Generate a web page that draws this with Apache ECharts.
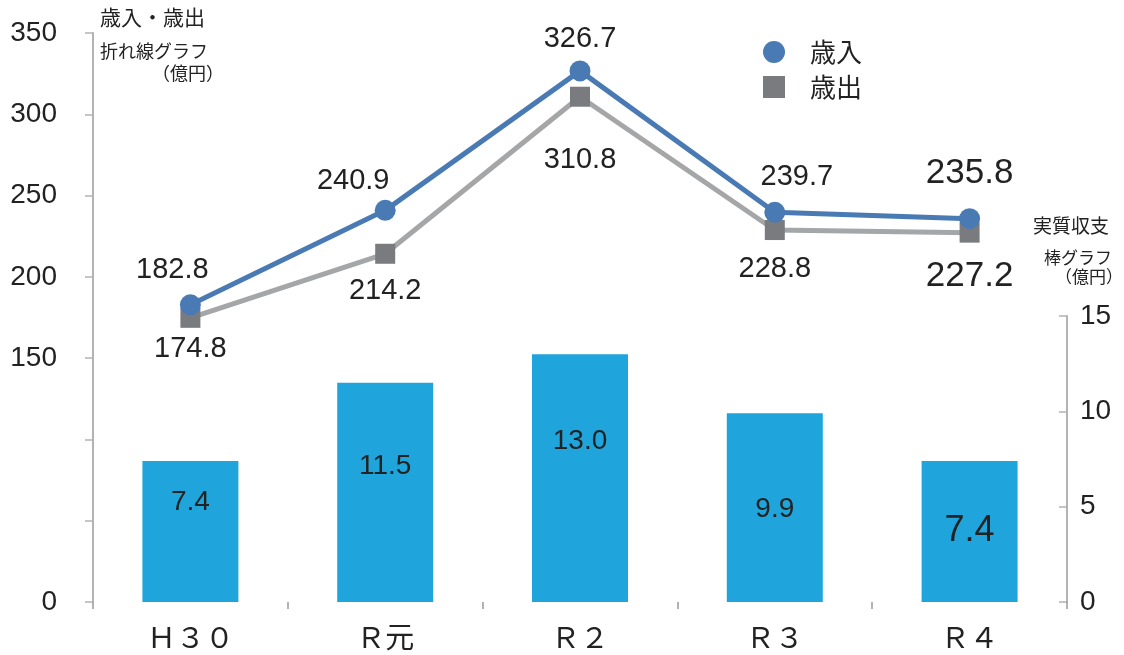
<!DOCTYPE html>
<html>
<head>
<meta charset="utf-8">
<script src="https://cdn.jsdelivr.net/npm/echarts@6/dist/echarts.min.js"></script>
<style>
  html, body { margin: 0; padding: 0; background: #ffffff; }
  #main { width: 1124px; height: 655px; }
</style>
</head>
<body>
<div id="main"></div>
<script>
// 年度
var years = ['Ｈ３０', 'Ｒ元', 'Ｒ２', 'Ｒ３', 'Ｒ４'];
// 歳入・歳出（億円）
var revenue = [182.8, 240.9, 326.7, 239.7, 235.8];
var expense = [174.8, 214.2, 310.8, 228.8, 227.2];
// 実質収支（億円）
var balance = [7.4, 11.5, 13.0, 9.9, 7.4];
// 左軸の目盛（表示するもの）
var leftTicks = [0, 150, 200, 250, 300, 350];

var numFont = '"Liberation Sans", Arial, sans-serif';
var axisFont = '"Liberation Sans Narrow", "Liberation Sans", Arial, sans-serif';
var jpFont = '"Noto Sans CJK JP", sans-serif';

// ラベルのずらし（見た目の調整）
var revShift = [[-18, -35], [-32, -29], [0, -32], [22, -35], [0, -45]];
var expShift = [[0, 31], [0, 37], [0, 63], [0, 39], [0, 44]];
var barShift = [-29, -26, -37, 2, 0];

var chart = echarts.init(document.getElementById('main'));

chart.setOption({
  animation: false,
  grid: [
    { left: 93, right: 57, top: 33, bottom: 53, outerBoundsMode: 'none', containLabel: false },
    { left: 93, right: 57, top: 316, bottom: 53, outerBoundsMode: 'none', containLabel: false }
  ],
  legend: {
    orient: 'vertical',
    left: 758,
    top: 34,
    itemWidth: 22,
    itemHeight: 22,
    itemGap: 9,
    textStyle: { fontFamily: jpFont, fontSize: 26, color: '#222', padding: [0, 0, 0, 20] },
    data: [
      { name: '歳入', icon: 'circle' },
      { name: '歳出', icon: 'rect', itemStyle: { color: '#7a7b7f' } }
    ]
  },
  graphic: [
    { type: 'text', left: 100, top: 7, style: { text: '歳入・歳出', font: '21px ' + jpFont, fill: '#222' } },
    { type: 'text', left: 100, top: 42, style: { text: '折れ線グラフ', font: '18px ' + jpFont, fill: '#222' } },
    { type: 'text', left: 152, top: 64, style: { text: '（億円）', font: '18px ' + jpFont, fill: '#222' } },
    { type: 'text', left: 1033, top: 216, style: { text: '実質収支', font: '19px ' + jpFont, fill: '#222' } },
    { type: 'text', left: 1044, top: 249, style: { text: '棒グラフ', font: '17px ' + jpFont, fill: '#222' } },
    { type: 'text', left: 1055, top: 268, style: { text: '（億円）', font: '17px ' + jpFont, fill: '#222' } }
  ],
  xAxis: [
    {
      type: 'category', gridIndex: 0, data: years,
      axisLine: { show: false },
      axisTick: { show: true, length: 7, lineStyle: { color: '#999', width: 1.5 } },
      axisLabel: { fontFamily: jpFont, fontSize: 29, color: '#222', margin: 20 }
    },
    {
      type: 'category', gridIndex: 1, data: years,
      axisLine: { show: false }, axisTick: { show: false }, axisLabel: { show: false }
    }
  ],
  yAxis: [
    {
      type: 'value', gridIndex: 0, position: 'left', min: 0, max: 350, interval: 50,
      splitLine: { show: false },
      axisLine: { show: true, lineStyle: { color: '#b3b3b3', width: 2 } },
      axisTick: { show: true, length: 8, lineStyle: { color: '#b3b3b3', width: 1.5 } },
      axisLabel: {
        fontFamily: axisFont, fontSize: 28, color: '#222', margin: 36,
        formatter: function (v) { return leftTicks.indexOf(v) >= 0 ? String(v) : ''; }
      }
    },
    {
      type: 'value', gridIndex: 1, position: 'right', min: 0, max: 15, interval: 5,
      splitLine: { show: false },
      axisLine: { show: true, lineStyle: { color: '#b3b3b3', width: 2 } },
      axisTick: { show: true, inside: true, length: 8, lineStyle: { color: '#b3b3b3', width: 1.5 } },
      axisLabel: { fontFamily: axisFont, fontSize: 28, color: '#222', margin: 13 }
    }
  ],
  series: [
    {
      name: '実質収支', type: 'bar', xAxisIndex: 1, yAxisIndex: 1,
      barWidth: 96,
      itemStyle: { color: '#1fa5dc' },
      data: balance.map(function (v, i) {
        return {
          value: v,
          label: {
            show: true, position: 'inside', offset: [0, barShift[i]],
            fontFamily: numFont, fontSize: i === 4 ? 36 : 28, color: '#222',
            formatter: function (p) { return p.value.toFixed(1); }
          }
        };
      })
    },
    {
      name: '歳出', type: 'line', xAxisIndex: 0, yAxisIndex: 0, z: 3,
      symbol: 'rect', symbolSize: 20,
      lineStyle: { color: '#a5a6a8', width: 5 },
      itemStyle: { color: '#7a7b7f' },
      data: expense.map(function (v, i) {
        return {
          value: v,
          label: {
            show: true, position: 'inside', offset: expShift[i],
            fontFamily: numFont, fontSize: i === 4 ? 35 : 29, color: '#222',
            formatter: function (p) { return p.value.toFixed(1); }
          }
        };
      })
    },
    {
      name: '歳入', type: 'line', xAxisIndex: 0, yAxisIndex: 0, z: 4,
      symbol: 'circle', symbolSize: 21,
      lineStyle: { color: '#4a7ab4', width: 5 },
      itemStyle: { color: '#4a7ab4' },
      data: revenue.map(function (v, i) {
        return {
          value: v,
          label: {
            show: true, position: 'inside', offset: revShift[i],
            fontFamily: numFont, fontSize: i === 4 ? 35 : 29, color: '#222',
            formatter: function (p) { return p.value.toFixed(1); }
          }
        };
      })
    }
  ]
});
</script>
</body>
</html>
